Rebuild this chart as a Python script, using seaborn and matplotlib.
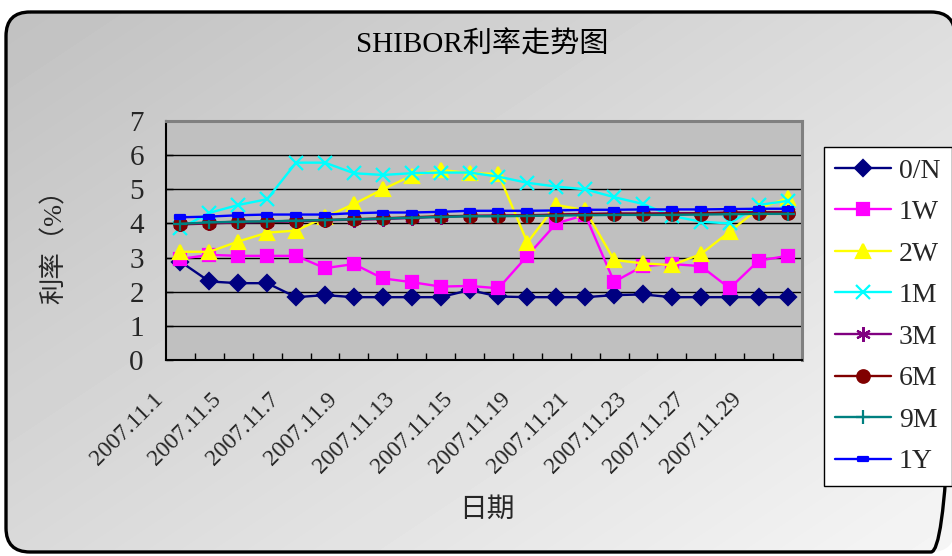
import numpy as np
import pandas as pd
import matplotlib
matplotlib.use("Agg")
import matplotlib.pyplot as plt
import seaborn as sns
from matplotlib.patches import FancyBboxPatch
from matplotlib.path import Path
from matplotlib.transforms import ScaledTranslation

# Trading days of November 2007
dates = ["2007.11.1", "2007.11.2", "2007.11.5", "2007.11.6", "2007.11.7", "2007.11.8",
         "2007.11.9", "2007.11.12", "2007.11.13", "2007.11.14", "2007.11.15", "2007.11.16",
         "2007.11.19", "2007.11.20", "2007.11.21", "2007.11.22", "2007.11.23", "2007.11.26",
         "2007.11.27", "2007.11.28", "2007.11.29", "2007.11.30"]

tenors = ["0/N", "1W", "2W", "1M", "3M", "6M", "9M", "1Y"]

rate_on = [2.88, 2.30, 2.25, 2.25, 1.84, 1.90, 1.84, 1.84, 1.84, 1.84, 2.05,
           1.86, 1.84, 1.84, 1.84, 1.90, 1.92, 1.84, 1.84, 1.84, 1.84, 1.84]
rate_1w = [2.96, 3.08, 3.05, 3.05, 3.05, 2.69, 2.81, 2.39, 2.28, 2.15, 2.17,
           2.10, 3.05, 4.00, 4.25, 2.29, 2.75, 2.81, 2.75, 2.10, 2.91, 3.05]
rate_2w = [3.17, 3.17, 3.47, 3.73, 3.79, 4.18, 4.57, 5.00, 5.40, 5.57, 5.47,
           5.45, 3.44, 4.54, 4.39, 2.93, 2.83, 2.78, 3.10, 3.76, 4.44, 4.74]
rate_1m = [3.86, 4.31, 4.54, 4.71, 5.78, 5.78, 5.47, 5.42, 5.47, 5.49, 5.49,
           5.37, 5.19, 5.08, 5.00, 4.77, 4.57, 4.22, 4.05, 4.00, 4.54, 4.66]
rate_3m = [3.97, 4.00, 4.03, 4.04, 4.06, 4.09, 4.11, 4.13, 4.16, 4.20, 4.22,
           4.23, 4.24, 4.26, 4.28, 4.29, 4.29, 4.30, 4.30, 4.32, 4.33, 4.33]
rate_6m = [3.98, 4.02, 4.05, 4.05, 4.08, 4.10, 4.12, 4.15, 4.18, 4.21, 4.22,
           4.22, 4.23, 4.25, 4.27, 4.28, 4.28, 4.28, 4.29, 4.31, 4.32, 4.32]
rate_9m = [3.99, 4.03, 4.05, 4.06, 4.08, 4.10, 4.12, 4.14, 4.17, 4.19, 4.21,
           4.21, 4.22, 4.23, 4.24, 4.25, 4.25, 4.25, 4.26, 4.27, 4.28, 4.28]
rate_1y = [4.18, 4.20, 4.24, 4.26, 4.26, 4.26, 4.30, 4.32, 4.32, 4.34, 4.37,
           4.37, 4.37, 4.38, 4.40, 4.40, 4.41, 4.41, 4.41, 4.42, 4.43, 4.43]

rates = [rate_on, rate_1w, rate_2w, rate_1m, rate_3m, rate_6m, rate_9m, rate_1y]

sns.set_theme(style="white")
plt.rcParams["font.family"] = ["Liberation Serif", "Noto Sans CJK SC"]
plt.rcParams["axes.unicode_minus"] = False

# small horizontal bar marker for the 1Y series
bar_marker = Path([(-1, -0.45), (1, -0.45), (1, 0.45), (-1, 0.45), (-1, -0.45)],
                  [Path.MOVETO, Path.LINETO, Path.LINETO, Path.LINETO, Path.CLOSEPOLY])

styles = {
    "0/N": dict(color="#000080", marker="D", ms=8),
    "1W": dict(color="#FF00FF", marker="s", ms=9),
    "2W": dict(color="#FFFF00", marker="^", ms=10),
    "1M": dict(color="#00FFFF", marker="x", ms=9.5),
    "3M": dict(color="#800080", marker=(6, 2, 0), ms=10.5),
    "6M": dict(color="#800000", marker="o", ms=9),
    "9M": dict(color="#008080", marker="+", ms=10),
    "1Y": dict(color="#0000FF", marker=bar_marker, ms=7.5),
}

df = pd.DataFrame({
    "pos": np.tile(np.arange(len(dates)) + 0.5, len(tenors)),
    "rate": np.concatenate(rates),
    "tenor": np.repeat(tenors, len(dates)),
})

W, H = 953, 556
fig = plt.figure(figsize=(W / 100, H / 100), dpi=100, facecolor="white")

# rounded chart panel with a diagonal grey gradient
bg = fig.add_axes([0, 0, 1, 1])
bg.set_xlim(0, W)
bg.set_ylim(H, 0)
bg.axis("off")
xx, yy = np.meshgrid(np.arange(W), np.arange(H))
shade = np.clip((192 + 0.03 * xx + 0.045 * yy) / 255.0, 0, 1)
img = bg.imshow(shade, cmap="gray", vmin=0, vmax=1, extent=(0, W, H, 0),
                aspect="auto", zorder=0, interpolation="bilinear")
panel = FancyBboxPatch((6, 12), 955 - 6, 552 - 12,
                       boxstyle="round,pad=0,rounding_size=24",
                       fc="none", ec="black", lw=2.4, zorder=2)
bg.add_patch(panel)
img.set_clip_path(panel)

# plotting area
ax = fig.add_axes([166 / W, 1 - 360 / H, (802 - 166) / W, (360 - 121) / H])
ax.set_facecolor("#c0c0c0")

for name in tenors:
    st = styles[name]
    sub = df[df["tenor"] == name]
    sns.lineplot(data=sub, x="pos", y="rate", ax=ax, color=st["color"],
                 marker=st["marker"], markersize=st["ms"],
                 markeredgecolor=st["color"], markerfacecolor=st["color"],
                 markeredgewidth=1.6, linewidth=1.7, label=name, legend=False,
                 sort=False, estimator=None)

ax.set_xlim(0, len(dates))
ax.set_ylim(0, 7)
ax.set_yticks(range(0, 8))
ax.grid(axis="y", color="black", linewidth=1.0)
ax.grid(axis="x", visible=False)
ax.set_axisbelow(True)

major_idx = np.arange(0, len(dates), 2)
ax.set_xticks(major_idx + 0.5)
ax.set_xticklabels([dates[i] for i in major_idx], rotation=45, ha="right",
                   va="center", rotation_mode="anchor", fontsize=17)
ax.set_xticks(np.arange(1, len(dates)), minor=True)
ax.tick_params(axis="x", which="major", length=0, pad=26)
ax.tick_params(axis="x", which="minor", direction="in", length=5, width=1,
               color="black", bottom=True)
ax.tick_params(axis="y", which="major", direction="in", length=5, width=1,
               color="black", left=True, labelsize=21, pad=16)
shift = ScaledTranslation(-20 / 100, 0, fig.dpi_scale_trans)
for lab in ax.get_xticklabels():
    lab.set_transform(lab.get_transform() + shift)

for side in ("left", "bottom"):
    ax.spines[side].set_color("black")
    ax.spines[side].set_linewidth(1.5)
for side in ("top", "right"):
    ax.spines[side].set_color("#808080")
    ax.spines[side].set_linewidth(2.2)
    ax.spines[side].set_visible(True)

ax.set_xlabel("日期", fontsize=20)
ax.xaxis.set_label_coords(0.5 + 3 / 636, -(510 - 360) / 239)
ax.xaxis.label.set_va("center")
ax.set_ylabel("利率（%）", fontsize=19)
ax.yaxis.set_label_coords((54 - 166) / 636, 0.5)
ax.yaxis.label.set_va("center")

fig.text(482 / W, 1 - 45 / H, "SHIBOR利率走势图", ha="center", va="center",
         fontsize=21, color="black")

handles = [h for h in ax.get_lines() if h.get_label() in tenors]
leg = fig.legend(handles, tenors, loc="upper left",
                 bbox_to_anchor=(824 / W, 1 - 147 / H), frameon=True,
                 fancybox=False, edgecolor="black", facecolor="white",
                 framealpha=1, fontsize=20, labelspacing=0.58, handlelength=2.0,
                 handletextpad=0.3, borderpad=0.4, borderaxespad=0)
leg.get_frame().set_linewidth(1.0)

fig.savefig("out.png", dpi=100, facecolor="white")
